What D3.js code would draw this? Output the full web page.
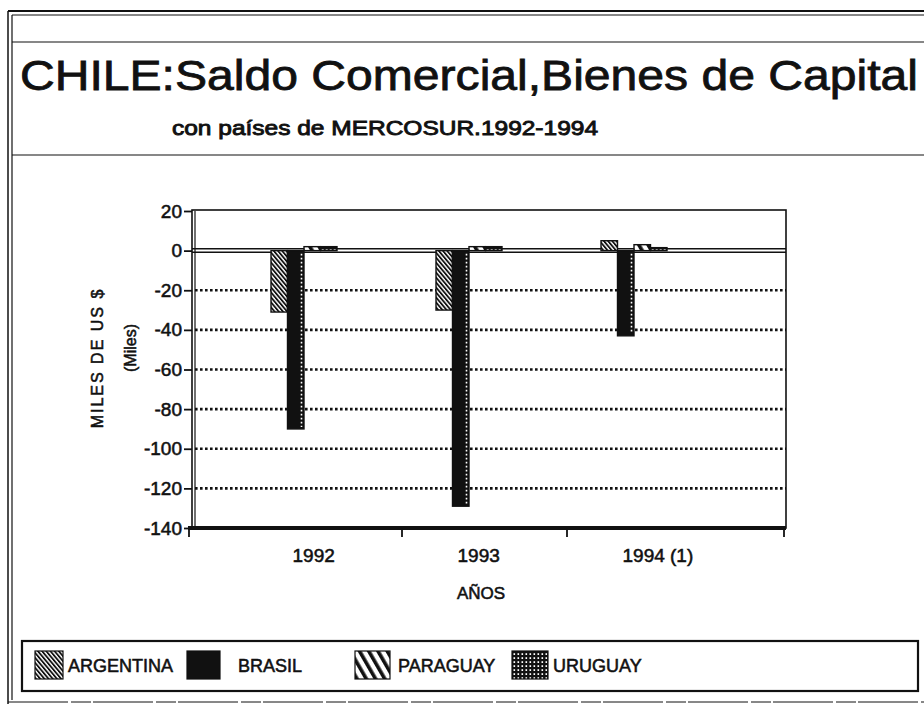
<!DOCTYPE html>
<html>
<head>
<meta charset="utf-8">
<script src="https://cdn.jsdelivr.net/npm/d3@7"></script>
<style>
  body { margin: 0; background: #fff; }
  svg { display: block; font-family: "Liberation Sans", Arial, sans-serif; }
  .heavy { stroke: #111; stroke-width: 0.55px; }
</style>
</head>
<body>
<svg id="chart" width="924" height="706"></svg>
<script>
// valores (miles de US$)
const years = ["1992", "1993", "1994"];
const yearLabels = ["1992", "1993", "1994 (1)"];
const series = ["ARGENTINA", "BRASIL", "PARAGUAY", "URUGUAY"];
const argentina = [-31, -30, 5];
const brasil = [-90, -129, -43];
const paraguay = [2, 2, 3];
const uruguay = [2, 2, 1.5];
const yTicks = [20, 0, -20, -40, -60, -80, -100, -120, -140];
const gridTicks = [-20, -40, -60, -80, -100, -120];

const svg = d3.select("#chart");
const ink = "#111";

// tramas
const defs = svg.append("defs");
const pArg = defs.append("pattern").attr("id", "pArg").attr("patternUnits", "userSpaceOnUse")
  .attr("width", 3.2).attr("height", 3.2).attr("patternTransform", "rotate(-40)");
pArg.append("rect").attr("width", 3.2).attr("height", 3.2).attr("fill", "#fff");
pArg.append("rect").attr("width", 1.8).attr("height", 3.2).attr("fill", ink);

const pPar = defs.append("pattern").attr("id", "pPar").attr("patternUnits", "userSpaceOnUse")
  .attr("width", 8).attr("height", 8).attr("patternTransform", "rotate(-30)");
pPar.append("rect").attr("width", 8).attr("height", 8).attr("fill", "#fff");
pPar.append("rect").attr("width", 3.6).attr("height", 8).attr("fill", ink);

const pUru = defs.append("pattern").attr("id", "pUru").attr("patternUnits", "userSpaceOnUse")
  .attr("width", 4).attr("height", 4);
pUru.append("rect").attr("width", 4).attr("height", 4).attr("fill", ink);
pUru.append("rect").attr("x", 1.5).attr("y", 1.2).attr("width", 1.6).attr("height", 1.8).attr("fill", "#fff");

const fills = { ARGENTINA: "url(#pArg)", BRASIL: ink, PARAGUAY: "url(#pPar)", URUGUAY: "url(#pUru)" };
const values = { ARGENTINA: argentina, BRASIL: brasil, PARAGUAY: paraguay, URUGUAY: uruguay };

// marco exterior
const frame = svg.append("g").attr("stroke", ink).attr("fill", "none");
frame.append("line").attr("x1", 8).attr("x2", 924).attr("y1", 11).attr("y2", 11).attr("stroke-width", 2.2);
frame.append("line").attr("x1", 12).attr("x2", 924).attr("y1", 15).attr("y2", 15).attr("stroke-width", 1);
frame.append("line").attr("x1", 12).attr("x2", 924).attr("y1", 42).attr("y2", 42).attr("stroke-width", 1.2);
frame.append("line").attr("x1", 8).attr("x2", 8).attr("y1", 11).attr("y2", 704).attr("stroke-width", 1.5);
frame.append("line").attr("x1", 12).attr("x2", 12).attr("y1", 15).attr("y2", 700).attr("stroke-width", 1.2);
frame.append("line").attr("x1", 12).attr("x2", 924).attr("y1", 155).attr("y2", 155).attr("stroke-width", 1.2);
frame.append("line").attr("x1", 8).attr("x2", 924).attr("y1", 702).attr("y2", 702).attr("stroke-width", 1)
  .attr("stroke-dasharray", "60,3,20,2");

// titulos
svg.append("text").attr("x", 20).attr("y", 90).attr("font-size", 42).attr("fill", ink)
  .attr("class", "heavy").style("stroke-width", "0.8px")
  .attr("textLength", 898).attr("lengthAdjust", "spacingAndGlyphs")
  .text("CHILE:Saldo Comercial,Bienes de Capital");
svg.append("text").attr("x", 172).attr("y", 135).attr("font-size", 21).attr("fill", ink)
  .attr("class", "heavy").style("stroke-width", "0.9px")
  .attr("textLength", 426).attr("lengthAdjust", "spacingAndGlyphs")
  .text("con países de MERCOSUR.1992-1994");

// escalas
const plot = { left: 192, right: 786, top: 211, bottom: 528 };
const y = d3.scaleLinear().domain([-140, 20]).range([plot.bottom, plot.top]);
const x0 = d3.scaleBand().domain(years).range([237, 732]);
const x1 = d3.scaleBand().domain(series).range([34, 100]);

// rejilla punteada
svg.append("g").selectAll("line").data(gridTicks).join("line")
  .attr("x1", plot.left + 3).attr("x2", plot.right)
  .attr("y1", d => y(d)).attr("y2", d => y(d))
  .attr("stroke", ink).attr("stroke-width", 2.6).attr("stroke-dasharray", "2.6,2.4");

// linea de cero doble y marco del grafico
const z = y(0);
svg.append("line").attr("x1", plot.left).attr("x2", plot.right).attr("y1", z - 1.8).attr("y2", z - 1.8)
  .attr("stroke", ink).attr("stroke-width", 1.5);
svg.append("line").attr("x1", plot.left).attr("x2", plot.right).attr("y1", z + 1.6).attr("y2", z + 1.6)
  .attr("stroke", ink).attr("stroke-width", 1.5);
svg.append("rect").attr("x", plot.left).attr("y", plot.top - 1).attr("width", plot.right - plot.left)
  .attr("height", plot.bottom - plot.top + 1).attr("fill", "none").attr("stroke", ink).attr("stroke-width", 1.6);
svg.append("line").attr("x1", plot.left + 3).attr("x2", plot.left + 3).attr("y1", plot.top).attr("y2", plot.bottom)
  .attr("stroke", ink).attr("stroke-width", 1.2);

// barras
const rows = [];
years.forEach((yr, i) => series.forEach(s => rows.push({ year: yr, serie: s, v: values[s][i] })));
const bars = svg.append("g").selectAll("g").data(rows).join("g")
  .attr("transform", d => `translate(${x0(d.year) + x1(d.serie)},0)`);
bars.append("rect")
  .attr("y", d => d.v >= 0 ? y(d.v) : z)
  .attr("width", x1.bandwidth())
  .attr("height", d => Math.abs(y(d.v) - z))
  .attr("fill", d => fills[d.serie])
  .attr("stroke", ink).attr("stroke-width", 1.4);
bars.filter(d => d.serie === "BRASIL").append("line")
  .attr("x1", x1.bandwidth() - 2.5).attr("x2", x1.bandwidth() - 2.5)
  .attr("y1", z + 3).attr("y2", d => y(d.v) - 2)
  .attr("stroke", "#fff").attr("stroke-width", 1.6).attr("stroke-dasharray", "1.8,2.2");

// eje y
const yAxis = svg.append("g").attr("transform", `translate(${plot.left},0)`)
  .call(d3.axisLeft(y).tickValues(yTicks).tickSize(8).tickPadding(2).tickFormat(d3.format("d")));
yAxis.select(".domain").remove();
yAxis.selectAll("line").attr("stroke", ink).attr("stroke-width", 1.8);
yAxis.selectAll("text").attr("font-size", 19).attr("fill", ink).attr("font-family", null)
  .attr("class", "heavy")
  .text(d => d < 0 ? "-" + Math.abs(d) : d);

// eje x
svg.append("line").attr("x1", plot.left - 4).attr("x2", plot.right).attr("y1", plot.bottom).attr("y2", plot.bottom)
  .attr("stroke", ink).attr("stroke-width", 4);
const xTickPos = [plot.left - 3].concat(years.slice(1).map(d => x0(d)), [plot.right - 2]);
svg.append("g").selectAll("line").data(xTickPos).join("line")
  .attr("x1", d => d).attr("x2", d => d).attr("y1", plot.bottom).attr("y2", plot.bottom + 9)
  .attr("stroke", ink).attr("stroke-width", 1.8);
svg.append("g").selectAll("text").data(years).join("text")
  .attr("x", d => x0(d) + x0.bandwidth() / 2 - 27).attr("y", 562)
  .attr("font-size", 19).attr("fill", ink).attr("class", "heavy")
  .text((d, i) => yearLabels[i]);

// titulos de ejes
svg.append("text").attr("x", 481).attr("y", 599).attr("text-anchor", "middle")
  .attr("font-size", 17).attr("fill", ink).attr("class", "heavy").text("AÑOS");
svg.append("text").attr("transform", "translate(103,358) rotate(-90)").attr("text-anchor", "middle")
  .attr("font-size", 16).attr("letter-spacing", 2).attr("fill", ink).attr("class", "heavy")
  .text("MILES DE US $");
svg.append("text").attr("transform", "translate(136,348) rotate(-90)").attr("text-anchor", "middle")
  .attr("font-size", 16).attr("fill", ink).attr("class", "heavy").text("(Miles)");

// leyenda
svg.append("rect").attr("x", 22).attr("y", 641).attr("width", 896).attr("height", 50)
  .attr("fill", "none").attr("stroke", ink).attr("stroke-width", 2.2);
const legX = { ARGENTINA: [35, 68], BRASIL: [187, 238], PARAGUAY: [355, 398], URUGUAY: [512, 553] };
const legW = { ARGENTINA: 28, BRASIL: 33, PARAGUAY: 35, URUGUAY: 36 };
const leg = svg.append("g").selectAll("g").data(series).join("g");
leg.append("rect").attr("x", d => legX[d][0]).attr("y", 651).attr("width", d => legW[d]).attr("height", 28)
  .attr("fill", d => fills[d]).attr("stroke", ink).attr("stroke-width", 1.2);
leg.append("text").attr("x", d => legX[d][1]).attr("y", 672).attr("font-size", 18).attr("fill", ink)
  .attr("class", "heavy")
  .text(d => d);
</script>
</body>
</html>
